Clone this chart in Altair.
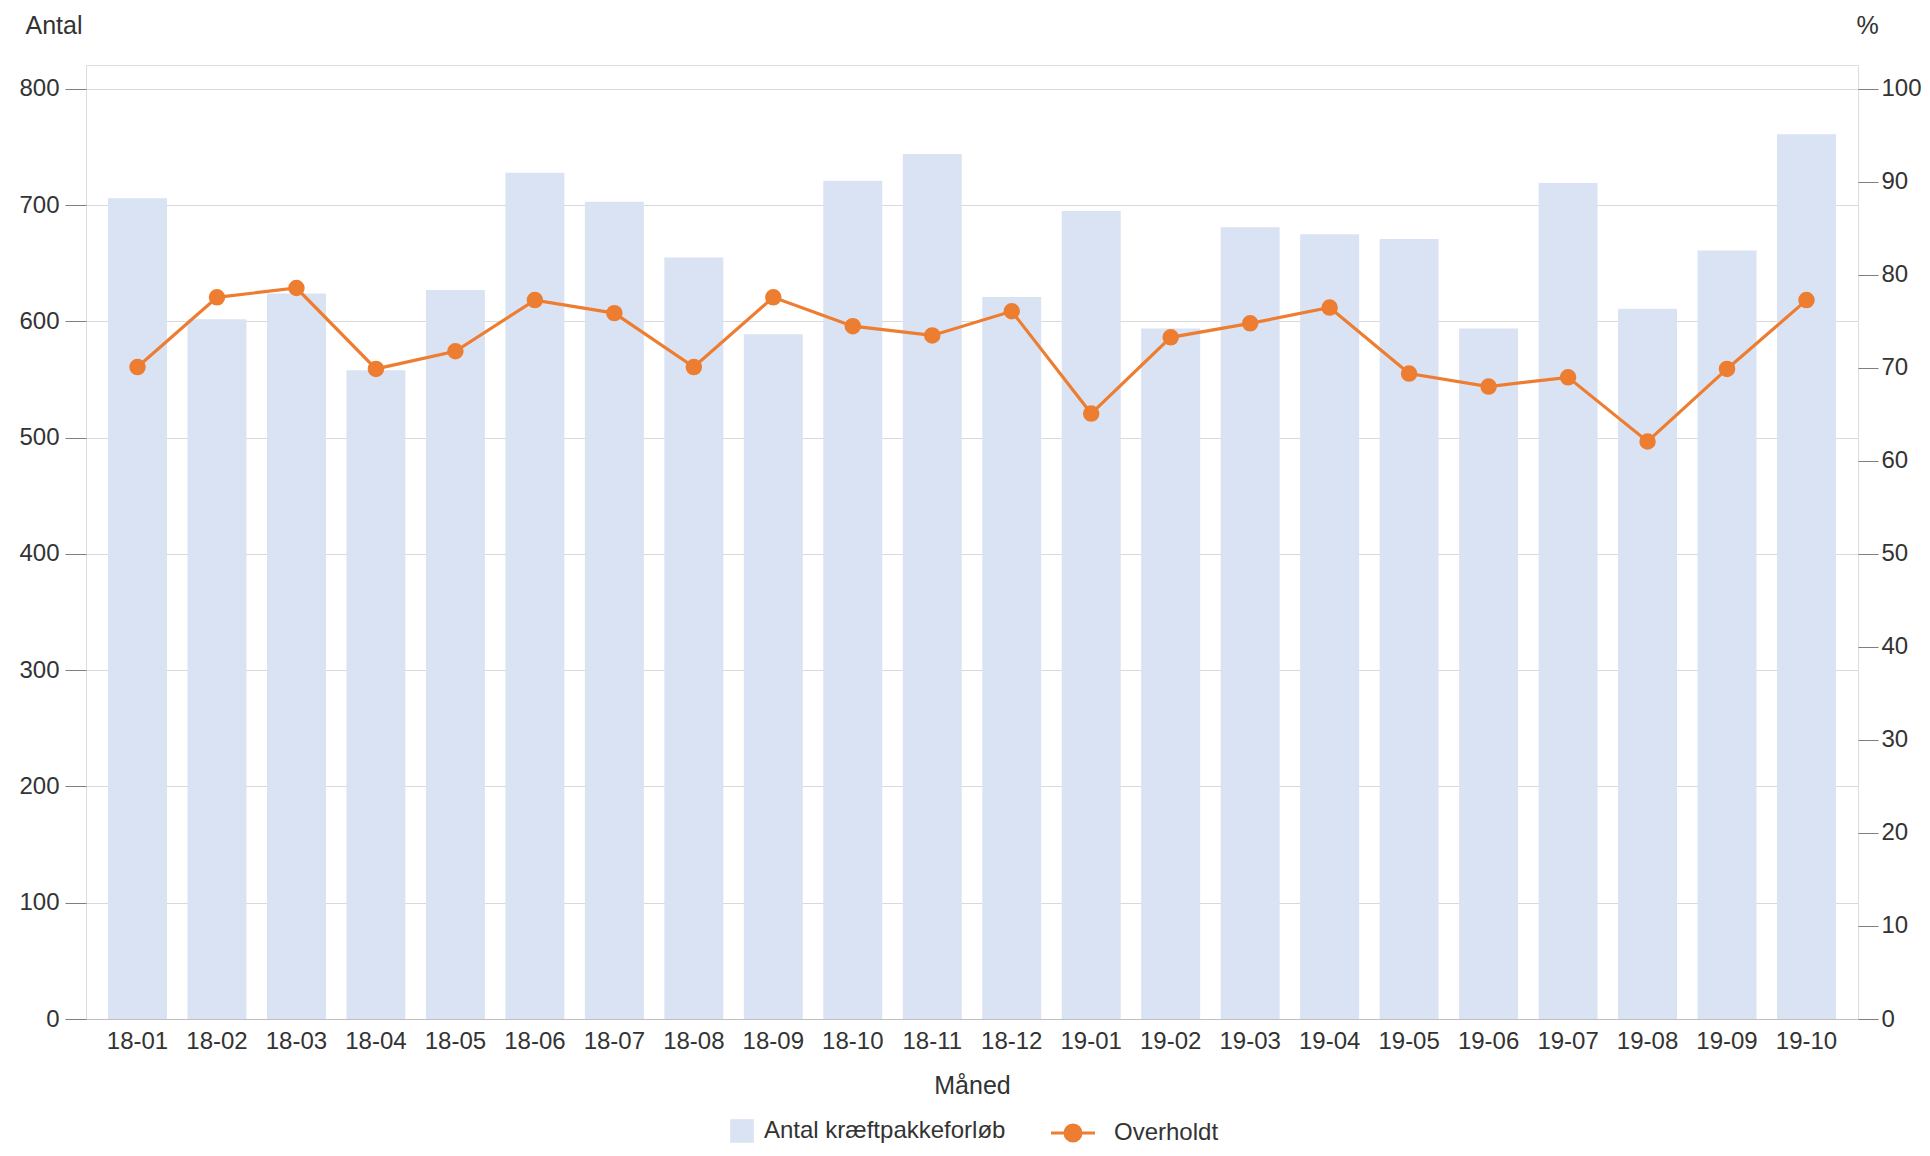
import altair as alt
import pandas as pd

months = ["18-01", "18-02", "18-03", "18-04", "18-05", "18-06", "18-07", "18-08",
          "18-09", "18-10", "18-11", "18-12", "19-01", "19-02", "19-03", "19-04",
          "19-05", "19-06", "19-07", "19-08", "19-09", "19-10"]
antal = [706, 602, 624, 558, 627, 728, 703, 655, 589, 721, 744, 621,
         695, 594, 681, 675, 671, 594, 719, 611, 661, 761]
overholdt = [70.1, 77.6, 78.6, 69.9, 71.8, 77.3, 75.9, 70.1, 77.6, 74.5, 73.5, 76.1,
             65.1, 73.3, 74.8, 76.5, 69.4, 68.0, 69.0, 62.1, 69.9, 77.3]

bar_name = "Antal kræftpakkeforløb"
line_name = "Overholdt"
left_ticks = [0, 100, 200, 300, 400, 500, 600, 700, 800]
right_ticks = [0, 10, 20, 30, 40, 50, 60, 70, 80, 90, 100]

df = pd.DataFrame({
    "Måned": months,
    "Antal": antal,
    "Pct": overholdt,
    "bar_series": [bar_name] * len(months),
    "line_series": [line_name] * len(months),
})

FONT = "Liberation Sans"
TXT = "#333333"
BAR = "#dae3f3"
ORANGE = "#ed7d31"

x_enc = alt.X(
    "Måned:N",
    sort=months,
    scale=alt.Scale(paddingInner=0.258, paddingOuter=0.277),
    axis=alt.Axis(
        title="Måned", labelAngle=0, ticks=False, domain=True, domainColor="#bfbfbf",
        labelPadding=10, labelFontSize=24, labelColor=TXT, labelFont=FONT,
        titleFontSize=25, titleFont=FONT, titleColor=TXT, titleFontWeight="normal",
        titleY=66, titleBaseline="middle", grid=False,
    ),
)

bars = alt.Chart(df).mark_bar(color=BAR).encode(
    x=x_enc,
    y=alt.Y(
        "Antal:Q",
        scale=alt.Scale(domain=[0, 820.6], nice=False, zero=True),
        axis=alt.Axis(
            values=left_ticks, title="Antal", titleAngle=0, titleX=-61, titleY=-40,
            titleAlign="left", titleBaseline="middle", titleFontSize=25, titleFont=FONT,
            titleColor=TXT, titleFontWeight="normal",
            labelFontSize=24, labelFont=FONT, labelColor=TXT, labelPadding=6,
            tickSize=21, tickColor="#7f7f7f", domain=False,
            grid=True, gridColor="#d9d9d9", orient="left",
        ),
    ),
    color=alt.Color(
        "bar_series:N",
        scale=alt.Scale(domain=[bar_name], range=[BAR]),
        legend=alt.Legend(
            title=None, orient="none", legendX=644, legendY=1054,
            symbolType="square", symbolSize=560, symbolStrokeWidth=0,
            labelFontSize=24, labelFont=FONT, labelColor=TXT, labelOffset=10,
            labelLimit=500,
        ),
    ),
)

# legend glyph: a short line with a dot in the middle
line_path = "M-2.2,0L2.2,0M-0.8,0A0.8,0.8,0,1,1,0.8,0A0.8,0.8,0,1,1,-0.8,0Z"

line = alt.Chart(df).mark_line(
    strokeWidth=3.2,
    point=alt.OverlayMarkDef(filled=True, fill=ORANGE, size=210, opacity=1),
).encode(
    x=x_enc,
    y=alt.Y(
        "Pct:Q",
        scale=alt.Scale(domain=[0, 102.58], nice=False, zero=True),
        axis=alt.Axis(
            values=right_ticks, title="%", titleAngle=0, titleX=9, titleY=-40,
            titleAlign="center", titleBaseline="middle", titleFontSize=25, titleFont=FONT,
            titleColor=TXT, titleFontWeight="normal",
            labelFontSize=24, labelFont=FONT, labelColor=TXT, labelPadding=3,
            tickSize=20, tickColor="#7f7f7f", domain=False, grid=False, orient="right",
        ),
    ),
    stroke=alt.Stroke(
        "line_series:N",
        scale=alt.Scale(domain=[line_name], range=[ORANGE]),
        legend=alt.Legend(
            title=None, orient="none", legendX=975, legendY=1056,
            symbolType=line_path, symbolSize=400, symbolStrokeWidth=3,
            symbolFillColor=ORANGE, symbolStrokeColor=ORANGE,
            labelFontSize=24, labelFont=FONT, labelColor=TXT, labelOffset=29,
            labelLimit=500,
        ),
    ),
)

chart = alt.layer(bars, line).resolve_scale(y="independent").properties(
    width=1772,
    height=954,
    autosize=alt.AutoSizeParams(type="none"),
    padding={"left": 78, "top": 57, "right": 64, "bottom": 129},
).configure_view(stroke="#c8c8c8", strokeWidth=1).configure(background="white")

chart.save("out.html", embed_options={"renderer": "svg", "actions": False})
